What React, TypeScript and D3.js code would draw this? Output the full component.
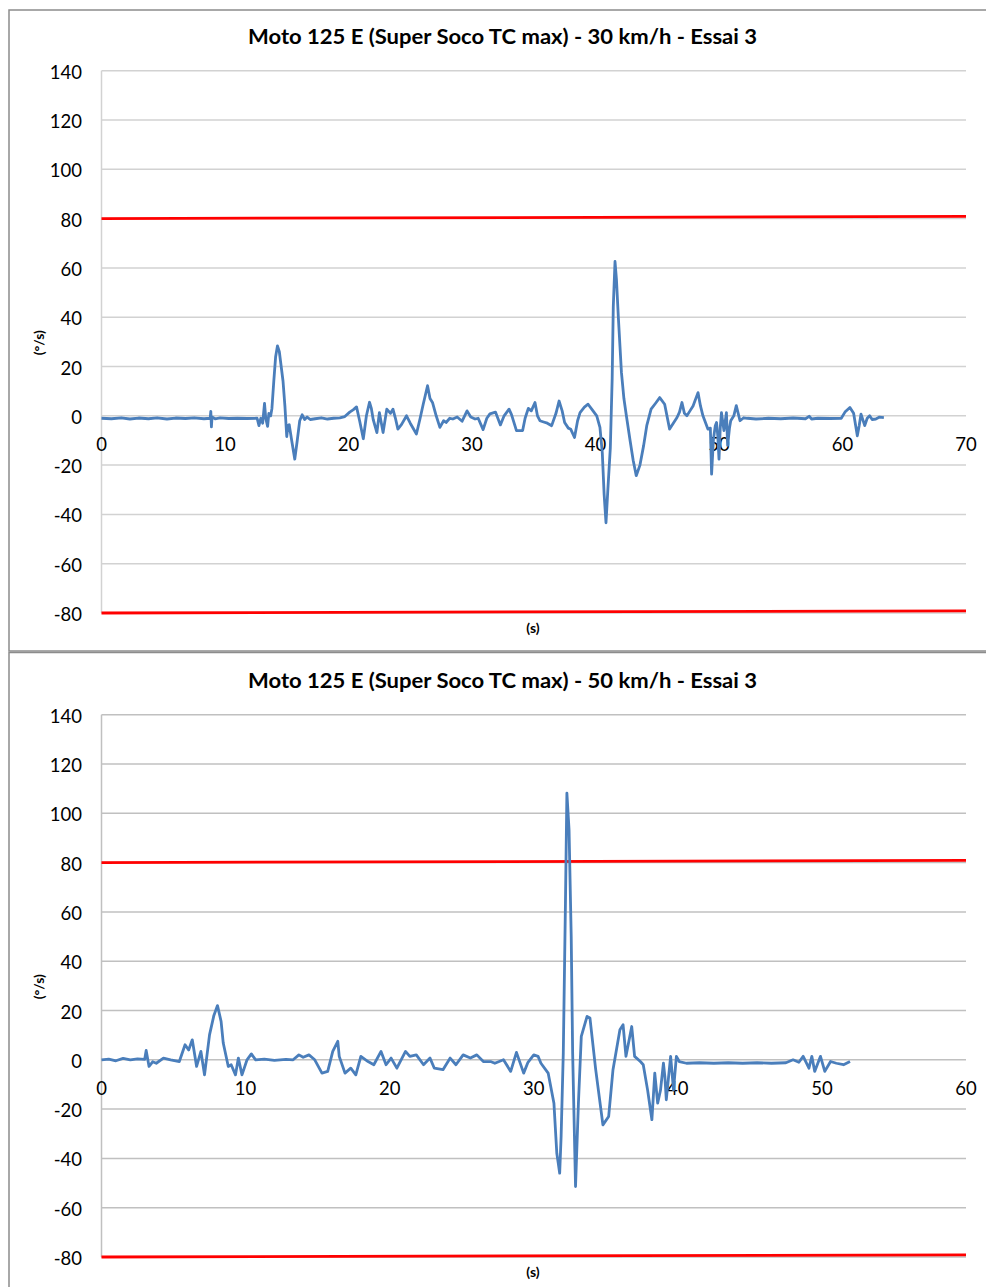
import * as d3 from 'd3';
import React from 'react';

// values (time in s, yaw rate in °/s)
const yTicks = [140, 120, 100, 80, 60, 40, 20, 0, -20, -40, -60, -80];
const xTicks30 = [0, 10, 20, 30, 40, 50, 60, 70];
const xTicks50 = [0, 10, 20, 30, 40, 50, 60];

const title30 = 'Moto 125 E (Super Soco TC max) - 30 km/h - Essai 3';
const title50 = 'Moto 125 E (Super Soco TC max) - 50 km/h - Essai 3';

const essai30: [number, number][] = [
  [0, -1], [0.8, -1.2], [1.6, -0.8], [2.3, -1.3], [3.0, -0.9], [3.8, -1.2], [4.5, -0.8], [5.3, -1.3],
  [6.0, -0.9], [6.8, -1.1], [7.5, -0.8], [8.3, -1.2], [8.8, -1], [8.85, 1.8], [8.9, -4.5], [8.95, -0.5],
  [9.2, -1.2], [9.6, -0.8], [10.3, -1.1], [11.0, -1], [11.8, -1.1], [12.6, -1],
  [12.75, -4], [12.9, -1], [13.05, -3], [13.2, 5], [13.3, -1], [13.45, -4.3], [13.55, 1], [13.7, 0],
  [13.8, 3], [13.95, 14], [14.1, 24], [14.25, 28.4], [14.4, 26], [14.55, 20], [14.7, 14], [14.85, 4],
  [15.0, -8.4], [15.1, -4], [15.2, -3.6], [15.4, -10], [15.65, -17.6], [15.85, -10], [16.05, -2],
  [16.25, 0.4], [16.45, -1.5], [16.65, -0.5], [16.9, -1.5], [17.3, -1.2], [17.8, -0.8], [18.3, -1.3],
  [18.8, -1], [19.3, -0.8], [19.7, -0.3], [20.1, 1.5], [20.4, 2.5], [20.65, 3.6], [20.9, -2],
  [21.2, -9.3], [21.45, 0], [21.7, 5.5], [21.85, 3], [22.0, -1.5], [22.3, -6.8], [22.5, 1.3],
  [22.8, -6.8], [23.1, 2.7], [23.4, 1], [23.6, 2.7], [23.8, -1], [24.0, -5.4], [24.3, -3.5],
  [24.7, 0], [25.0, -3], [25.5, -7.4], [25.8, -1], [26.05, 4.7], [26.4, 12.2], [26.6, 7], [26.8, 5.4],
  [27.1, 0], [27.4, -4.7], [27.7, -2], [27.9, -2.7], [28.2, -1], [28.45, -1.3], [28.8, -0.5],
  [29.2, -2.2], [29.6, 2], [29.9, -0.5], [30.25, -1.3], [30.5, -1], [30.9, -5.6], [31.2, -1],
  [31.45, 0.8], [31.9, 1.5], [32.3, -3.7], [32.6, 0], [33.0, 2.7], [33.2, 0.5], [33.6, -6],
  [34.1, -6], [34.3, -1], [34.56, 3], [34.8, 2], [35.1, 5.4], [35.3, 0], [35.5, -2], [35.8, -2.5],
  [36.1, -3], [36.45, -4], [36.8, 1], [37.05, 6], [37.3, 2], [37.5, -2.7], [37.8, -5], [38.0, -5.5],
  [38.3, -8.8], [38.55, -2], [38.75, 1.3], [39.1, 3.5], [39.4, 4.7], [39.8, 2], [40.1, 0],
  [40.36, -4.7], [40.55, -15], [40.7, -32], [40.85, -43.4], [41.0, -30], [41.2, -13], [41.35, 15],
  [41.44, 44.3], [41.58, 62.6], [41.7, 55], [41.85, 40], [42.1, 17.6], [42.3, 7], [42.5, 0],
  [42.8, -10], [43.05, -18], [43.3, -24.3], [43.6, -20], [43.9, -12], [44.15, -4], [44.5, 2.7],
  [44.85, 5], [45.2, 7.4], [45.6, 4.7], [46.0, -5.4], [46.3, -3], [46.6, -0.7], [46.8, 1.5],
  [47.0, 5.4], [47.2, 1], [47.4, 0], [47.65, 2], [47.9, 4], [48.3, 9.4], [48.5, 4], [48.7, 0],
  [49.1, -5.4], [49.3, -5], [49.4, -23.7], [49.55, -9.5], [49.7, -4], [49.8, -2.7], [49.9, -8],
  [50.0, -17.6], [50.1, -5], [50.2, 1.3], [50.4, -6], [50.6, 1.3], [50.7, -12], [50.85, -5],
  [50.95, -2], [51.2, 0], [51.4, 4.1], [51.7, -2], [52.0, -0.8], [52.3, -1], [53.0, -1.3],
  [54.0, -1], [55.0, -1.2], [56.0, -0.9], [57.0, -1.2], [57.3, -0.2], [57.5, -1.3], [58.0, -1],
  [59.0, -1.1], [59.9, -1], [60.2, 1.5], [60.6, 3.4], [60.9, 1], [61.2, -8.1], [61.35, -4],
  [61.5, 0.7], [61.8, -4], [62.0, -1], [62.2, 0], [62.4, -1.5], [62.7, -1.3], [63.0, -0.5], [63.35, -0.7],
];

const essai50: [number, number][] = [
  [0, 0], [0.5, 0.3], [1.0, -0.4], [1.5, 0.6], [2.0, 0], [2.5, 0.4], [3.0, 0.2], [3.1, 3.8],
  [3.3, -2.7], [3.55, -0.8], [3.8, -1.4], [4.3, 0.7], [4.8, 0], [5.4, -0.7], [5.8, 6.1], [6.05, 4],
  [6.3, 8.1], [6.6, -2.7], [6.9, 3.4], [7.15, -6.1], [7.5, 10.2], [7.8, 18], [8.05, 22], [8.3, 15.6],
  [8.45, 6.8], [8.8, -2.7], [9.0, -2], [9.3, -6.1], [9.5, 0.7], [9.75, -6.1], [10.1, 0], [10.4, 2.4],
  [10.7, 0], [11.3, 0.3], [12.0, -0.2], [12.8, 0.2], [13.3, 0], [13.7, 2], [14.0, 1], [14.4, 2],
  [14.8, 0], [15.3, -5.4], [15.7, -4.7], [16.05, 3.4], [16.4, 7.5], [16.5, 1.4], [16.9, -5.4],
  [17.3, -3.4], [17.65, -6.1], [18.0, 1.4], [18.5, -0.7], [18.9, -2], [19.4, 3.4], [19.75, -2],
  [20.1, 0.7], [20.5, -3.4], [21.1, 3.4], [21.4, 1.4], [21.85, 2], [22.35, -2], [22.8, 0.7],
  [23.1, -3.4], [23.7, -4], [24.2, 0.7], [24.6, -2], [25.1, 2], [25.6, 0.7], [26.05, 2], [26.5, -0.7],
  [27.0, -0.7], [27.3, -1.4], [27.9, 0], [28.4, -4.7], [28.8, 3], [29.3, -5.4], [29.6, -1], [30.0, 2],
  [30.3, 1.4], [30.5, -1.4], [31.0, -5.4], [31.4, -17.6], [31.6, -37.9], [31.7, -41.9], [31.8, -46],
  [31.9, -31], [32.05, 2.7], [32.2, 63.6], [32.3, 108.2], [32.45, 93.3], [32.6, 50], [32.7, 2.7],
  [32.9, -51.4], [33.1, -17.6], [33.3, 9.5], [33.7, 17.6], [33.9, 17], [34.3, -4], [34.8, -26.4],
  [35.2, -23], [35.5, -4], [35.98, 12.2], [36.2, 14.2], [36.4, 1.4], [36.8, 13.5], [37.0, 1.4],
  [37.4, -0.7], [37.6, -2], [37.9, -12.2], [38.2, -24.3], [38.4, -5.4], [38.6, -17.6], [38.8, -12.2],
  [39.0, -1.4], [39.1, -6.8], [39.2, -16.2], [39.5, 1.4], [39.7, -12.2], [39.9, 1.4], [40.1, -0.7],
  [40.6, -1.4], [41.5, -1.2], [42.5, -1.4], [43.5, -1.2], [44.5, -1.4], [45.5, -1.2], [46.5, -1.4],
  [47.5, -1.2], [48.0, 0], [48.4, -1], [48.7, 1.4], [49.1, -3.4], [49.3, 1.4], [49.5, -4.7],
  [49.9, 1.4], [50.2, -4.7], [50.6, -0.7], [51.0, -1.4], [51.5, -2], [51.95, -0.7],
];

// red threshold lines (drawn slightly rising, as in the original)
const upper30: [number, number][] = [[0, 80], [70, 80.9]];
const lower30: [number, number][] = [[0, -80], [70, -79.1]];
const upper50: [number, number][] = [[0, 80], [60, 80.9]];
const lower50: [number, number][] = [[0, -80], [60, -79.1]];

const FONT = 'Lato, "Open Sans", sans-serif';

interface ChartProps {
  frameTop: number;
  plotTop: number;
  title: string;
  series: [number, number][];
  xTicks: number[];
  upper: [number, number][];
  lower: [number, number][];
  gridColor: string;
}

const RateChart: React.FC<ChartProps> = ({ frameTop, plotTop, title, series, xTicks, upper, lower, gridColor }) => {
  const left = 101.5;
  const right = 966;
  const plotBottom = plotTop + 542.3;

  const x = d3.scaleLinear().domain([0, xTicks[xTicks.length - 1]]).range([left, right]);
  const y = d3.scaleLinear().domain([-80, 140]).range([plotBottom, plotTop]);

  const line = d3.line<[number, number]>()
    .x(d => x(d[0]))
    .y(d => y(d[1]));

  return (
    <g>
      <rect x={9} y={frameTop} width={1000} height={641} fill="#fff" stroke="#8c8c8c" strokeWidth={1.5} />
      <text x={502.5} y={plotTop - 35} textAnchor="middle" dominantBaseline="central"
        fontFamily={FONT} fontWeight={700} fontSize={21} textLength={509} lengthAdjust="spacingAndGlyphs" fill="#000">
        {title}
      </text>

      {yTicks.map(t => (
        <g key={t}>
          <line x1={left} x2={right} y1={y(t)} y2={y(t)} stroke={gridColor} strokeWidth={1.5} />
          <text x={82} y={y(t) + 1} textAnchor="end" dominantBaseline="central"
            fontFamily={FONT} fontSize={18.5} fill="#000">{t}</text>
        </g>
      ))}
      <line x1={left} x2={left} y1={plotTop} y2={plotBottom} stroke={gridColor} strokeWidth={1.5} />

      {xTicks.map(t => (
        <text key={t} x={x(t)} y={y(0) + 28} textAnchor="middle" dominantBaseline="central"
          fontFamily={FONT} fontSize={18.5} fill="#000">{t}</text>
      ))}

      <path d={line(upper) || ''} fill="none" stroke="#ff0000" strokeWidth={2.8} />
      <path d={line(lower) || ''} fill="none" stroke="#ff0000" strokeWidth={2.8} />
      <path d={line(series) || ''} fill="none" stroke="#4a7ebb" strokeWidth={2.8} strokeLinejoin="round" />

      <text transform={`translate(38,${plotTop + 272}) rotate(-90)`} textAnchor="middle" dominantBaseline="central"
        fontFamily={FONT} fontWeight={700} fontSize={14} fill="#000">(°/s)</text>
      <text x={533} y={plotBottom + 14} textAnchor="middle" dominantBaseline="central"
        fontFamily={FONT} fontWeight={700} fontSize={14} fill="#000">(s)</text>
    </g>
  );
};

export default function App() {
  return (
    <svg width={986} height={1287} style={{ position: 'absolute', left: 0, top: 0, background: '#fff' }}>
      <rect width={986} height={1287} fill="#fff" />
      <RateChart frameTop={10} plotTop={70.7} title={title30} series={essai30} xTicks={xTicks30}
        upper={upper30} lower={lower30} gridColor="#d2d2d2" />
      <RateChart frameTop={652.5} plotTop={714.7} title={title50} series={essai50} xTicks={xTicks50}
        upper={upper50} lower={lower50} gridColor="#c0c0c0" />
    </svg>
  );
}
